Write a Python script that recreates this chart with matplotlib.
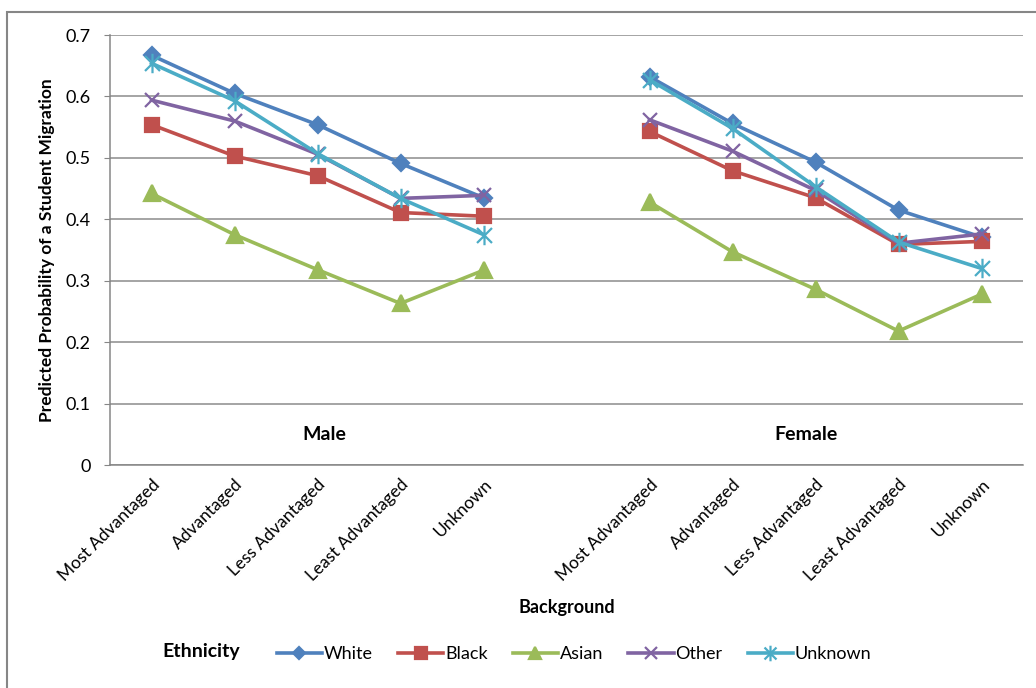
import matplotlib
matplotlib.use('Agg')
import matplotlib.pyplot as plt
import numpy as np
from matplotlib.patches import Rectangle
from matplotlib.path import Path

# category axis: five backgrounds for each sex, with a blank slot between them
backgrounds = ['Most Advantaged', 'Advantaged', 'Less Advantaged', 'Least Advantaged', 'Unknown']
categories = backgrounds + [''] + backgrounds

ethnicities = ['White', 'Black', 'Asian', 'Other', 'Unknown']

# predicted probabilities, male then female
white_male = [0.667, 0.605, 0.554, 0.491, 0.435]
white_female = [0.632, 0.556, 0.493, 0.415, 0.371]
black_male = [0.554, 0.503, 0.471, 0.411, 0.405]
black_female = [0.543, 0.479, 0.435, 0.359, 0.364]
asian_male = [0.442, 0.375, 0.318, 0.263, 0.317]
asian_female = [0.428, 0.347, 0.286, 0.218, 0.278]
other_male = [0.594, 0.560, 0.506, 0.434, 0.439]
other_female = [0.562, 0.511, 0.447, 0.361, 0.376]
unknown_male = [0.654, 0.593, 0.507, 0.434, 0.375]
unknown_female = [0.627, 0.548, 0.453, 0.363, 0.320]

male = [white_male, black_male, asian_male, other_male, unknown_male]
female = [white_female, black_female, asian_female, other_female, unknown_female]

# asterisk marker: an x with a vertical bar through it
star = Path([(-1, -1), (1, 1), (-1, 1), (1, -1), (0, -1.3), (0, 1.3)],
            [Path.MOVETO, Path.LINETO, Path.MOVETO, Path.LINETO, Path.MOVETO, Path.LINETO])

colors = ['#4F81BD', '#C0504D', '#9BBB59', '#8064A2', '#4BACC6']
markers = ['D', 's', '^', 'x', star]
msizes = [8, 10, 11, 10, 14]

plt.rcParams['font.family'] = ['Lato', 'DejaVu Sans']

fig = plt.figure(figsize=(10.36, 6.88), dpi=100)
ax = fig.add_axes([110 / 1036, 1 - 465 / 688, 913 / 1036, 430 / 688])

x = np.arange(len(categories))
for i, name in enumerate(ethnicities):
    y = np.array(male[i] + [np.nan] + female[i])
    ax.plot(x, y, color=colors[i], lw=2.6, marker=markers[i], ms=msizes[i],
            mew=1.6, label=name)

ax.set_xlim(-0.5, len(categories) - 0.5)
ax.set_ylim(0, 0.7)
ax.set_yticks(np.arange(0, 0.71, 0.1))
ax.set_yticklabels(['0'] + ['%.1f' % v for v in np.arange(0.1, 0.71, 0.1)], fontsize=13)
ax.set_xticks(x)
ax.set_xticklabels(categories, rotation=45, ha='right', rotation_mode='anchor', fontsize=12.5)
ax.tick_params(axis='x', length=0, pad=8)
ax.tick_params(axis='y', length=4, color='#868686', pad=10)
ax.yaxis.grid(True, color='#8c8c8c', lw=1.1)
ax.set_axisbelow(True)
for s in ['top', 'right']:
    ax.spines[s].set_visible(False)
for s in ['left', 'bottom']:
    ax.spines[s].set_color('#868686')
    ax.spines[s].set_linewidth(1.1)

ax.text(2.08, 0.05, 'Male', fontsize=14, fontweight='bold', ha='center', va='center')
ax.text(7.88, 0.05, 'Female', fontsize=14, fontweight='bold', ha='center', va='center')

fig.text(47 / 1036, 1 - 250 / 688, 'Predicted Probability of a Student Migration',
         rotation=90, fontsize=12.5, fontweight='bold', ha='center', va='center')
fig.text(567 / 1036, 1 - 608 / 688, 'Background', fontsize=13, fontweight='bold',
         ha='center', va='center')
fig.text(201 / 1036, 1 - 652 / 688, 'Ethnicity', fontsize=14, fontweight='bold',
         ha='center', va='center')

handles, labels = ax.get_legend_handles_labels()
fig.legend(handles, labels, loc='center', bbox_to_anchor=(574 / 1036, 1 - 654 / 688),
           ncol=5, frameon=False, fontsize=13, handlelength=2.5, handletextpad=0.1,
           columnspacing=1.4, markerscale=0.8)

# outer chart border
fig.patches.append(Rectangle((7 / 1036, -0.1), 1.2, 1.1 - 12 / 688,
                             transform=fig.transFigure, fill=False,
                             edgecolor='#868686', lw=1.5))

fig.savefig('out.png', dpi=100)
